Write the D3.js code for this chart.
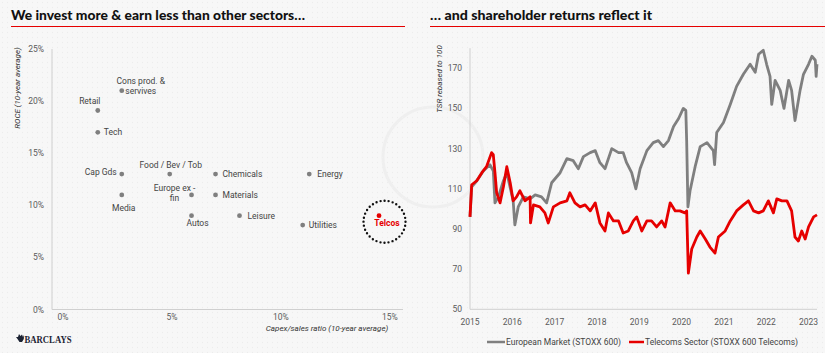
<!DOCTYPE html>
<html>
<head>
<meta charset="utf-8">
<script src="https://cdn.jsdelivr.net/npm/d3@7"></script>
<style>
  body { margin: 0; background: #f7f7f7; }
  svg { display: block; font-family: Roboto, "Open Sans", sans-serif; }
</style>
</head>
<body>
<div id="chart"></div>
<script>
// ---- left panel: capex vs ROCE
const sectors = ['Cons prod. & servives', 'Retail', 'Tech', 'Cap Gds', 'Food / Bev / Tob', 'Media',
  'Europe ex - fin', 'Autos', 'Chemicals', 'Materials', 'Leisure', 'Energy', 'Utilities', 'Telcos']
const capex = [2.7, 1.6, 1.6, 2.7, 4.9, 2.7, 5.9, 5.9, 7.0, 7.0, 8.1, 11.3, 11.0, 14.5]
const roce = [21.0, 19.1, 17.0, 13.0, 13.0, 11.0, 11.0, 9.0, 13.0, 11.0, 9.0, 13.0, 8.1, 9.0]
const capexTicks = [0, 5, 10, 15]
const roceTicks = [0, 5, 10, 15, 20, 25]

// ---- right panel: TSR rebased to 100
const tsrTicks = [50, 70, 90, 110, 130, 150, 170]
const yearTicks = [2015, 2016, 2017, 2018, 2019, 2020, 2021, 2022, 2023]
const seriesNames = ['European Market (STOXX 600)', 'Telecoms Sector (STOXX 600 Telecoms)']
const marketYears = [2015.00, 2015.04, 2015.16, 2015.32, 2015.47, 2015.55, 2015.59, 2015.67, 2015.79, 2015.87,
  2016.02, 2016.06, 2016.14, 2016.26, 2016.42, 2016.54, 2016.69, 2016.81, 2016.93, 2017.13,
  2017.29, 2017.44, 2017.56, 2017.68, 2017.84, 2017.96, 2018.07, 2018.19, 2018.35, 2018.51,
  2018.62, 2018.70, 2018.82, 2018.92, 2019.02, 2019.18, 2019.33, 2019.45, 2019.57, 2019.69,
  2019.81, 2019.93, 2020.04, 2020.10, 2020.12, 2020.15, 2020.20, 2020.32, 2020.44, 2020.60,
  2020.75, 2020.78, 2020.83, 2020.99, 2021.15, 2021.30, 2021.46, 2021.62, 2021.74, 2021.82,
  2021.93, 2022.01, 2022.09, 2022.13, 2022.21, 2022.33, 2022.42, 2022.53, 2022.60, 2022.68,
  2022.80, 2022.88, 2023.00, 2023.08, 2023.16, 2023.18, 2023.20]
const marketTSR = [96, 111, 114, 119, 122, 119, 103, 106, 114, 118,
  104, 92, 101, 106, 105, 107, 106, 103, 113, 118,
  125, 124, 120, 126, 128, 129, 123, 120, 130, 128,
  128, 123, 118, 110, 120, 129, 133, 134, 131, 134,
  141, 145, 150, 149, 134, 101, 109, 121, 131, 133,
  129, 122, 138, 143, 152, 161, 167, 172, 168, 177,
  179, 172, 166, 152, 164, 159, 150, 164, 159, 144,
  159, 167, 172, 176, 174, 166, 172]
const telcoYears = [2015.00, 2015.04, 2015.16, 2015.28, 2015.39, 2015.51, 2015.55, 2015.59, 2015.63, 2015.71,
  2015.79, 2015.87, 2015.95, 2016.02, 2016.10, 2016.18, 2016.30, 2016.42, 2016.43, 2016.50,
  2016.65, 2016.77, 2016.85, 2016.97, 2017.13, 2017.29, 2017.36, 2017.48, 2017.60, 2017.72,
  2017.84, 2017.96, 2018.07, 2018.19, 2018.27, 2018.39, 2018.51, 2018.62, 2018.74, 2018.86,
  2018.94, 2019.06, 2019.18, 2019.29, 2019.41, 2019.53, 2019.61, 2019.73, 2019.85, 2019.96,
  2020.08, 2020.12, 2020.15, 2020.16, 2020.24, 2020.36, 2020.44, 2020.56, 2020.67, 2020.79,
  2020.87, 2021.03, 2021.15, 2021.30, 2021.46, 2021.58, 2021.70, 2021.82, 2021.93, 2022.05,
  2022.17, 2022.25, 2022.37, 2022.49, 2022.60, 2022.68, 2022.76, 2022.84, 2022.92, 2023.00,
  2023.12, 2023.20]
const telcoTSR = [96, 112, 114, 118, 121, 128, 127, 118, 108, 103,
  111, 121, 113, 104, 106, 109, 104, 106, 93, 102,
  101, 98, 93, 101, 103, 104, 108, 103, 101, 102,
  99, 103, 93, 89, 98, 94, 94, 88, 89, 94,
  96, 89, 94, 94, 91, 94, 91, 103, 99, 99,
  98, 99, 76, 68, 80, 86, 89, 85, 81, 78,
  86, 89, 94, 99, 102, 104, 99, 98, 99, 104,
  98, 105, 104, 104, 99, 86, 84, 89, 85, 91,
  96, 97]

const W = 825, H = 353
const grey = '#7f7f7f', red = '#e60000', axisCol = '#cfcfcf', tickCol = '#5a5a5a'

const svg = d3.select('#chart').append('svg')
  .attr('width', W).attr('height', H)

// background with faint dots
const defs = svg.append('defs')
defs.append('pattern')
  .attr('id', 'dots').attr('width', 5).attr('height', 5)
  .attr('patternUnits', 'userSpaceOnUse')
  .append('circle').attr('cx', 2.5).attr('cy', 2.5).attr('r', 0.7)
  .attr('fill', '#ececec')
svg.append('rect').attr('width', W).attr('height', H).attr('fill', '#f7f7f7')
svg.append('rect').attr('width', W).attr('height', H).attr('fill', 'url(#dots)')
svg.append('circle').attr('cx', 433).attr('cy', 157).attr('r', 50)
  .attr('fill', 'none').attr('stroke', '#efefef').attr('stroke-width', 3)

// titles
function title(x, txt, len, x2) {
  svg.append('text').attr('x', x).attr('y', 20)
    .attr('font-family', 'Lato, sans-serif').attr('font-weight', 900)
    .attr('font-size', 14).attr('fill', '#111')
    .attr('textLength', len).attr('lengthAdjust', 'spacingAndGlyphs')
    .text(txt)
  svg.append('line').attr('x1', x).attr('x2', x2).attr('y1', 26.5).attr('y2', 26.5)
    .attr('stroke', red).attr('stroke-width', 1)
}
title(11, 'We invest more & earn less than other sectors…', 294, 405)
title(430, '… and shareholder returns reflect it', 222, 825)

// ===== left scatter
const xL = d3.scaleLinear().domain([-0.5, 15.6]).range([52, 403])
const yL = d3.scaleLinear().domain([0, 25]).range([309.5, 49])

const gL = svg.append('g')
gL.append('line').attr('x1', xL(-0.5)).attr('x2', xL(-0.5)).attr('y1', yL(25)).attr('y2', yL(0))
  .attr('stroke', axisCol)
gL.append('line').attr('x1', xL(-0.5)).attr('x2', xL(15.6)).attr('y1', yL(0)).attr('y2', yL(0))
  .attr('stroke', axisCol)
gL.selectAll('.yt').data(roceTicks).join('text')
  .attr('x', 44).attr('y', d => yL(d) + 3)
  .attr('text-anchor', 'end').attr('font-size', 8.5).attr('fill', tickCol)
  .text(d => d + '%')
gL.selectAll('.xt').data(capexTicks).join('text')
  .attr('x', d => xL(d)).attr('y', 320)
  .attr('text-anchor', 'middle').attr('font-size', 8.5).attr('fill', tickCol)
  .text(d => d + '%')
gL.append('text')
  .attr('transform', `translate(20,88) rotate(-90)`)
  .attr('text-anchor', 'middle').attr('font-size', 8).attr('font-style', 'italic').attr('fill', '#333')
  .text('ROCE (10-year average)')
gL.append('text').attr('x', 327).attr('y', 331)
  .attr('text-anchor', 'middle').attr('font-size', 8).attr('font-style', 'italic').attr('fill', '#333')
  .text('Capex/sales ratio (10-year average)')

// label placement around each dot
const place = {
  'Cons prod. & servives': { a: 'middle', dx: 19, lines: ['Cons prod. &', 'servives'], dy: [-10, 0] },
  'Retail': { a: 'middle', dx: -8, dy: [-9] },
  'Tech': { a: 'start', dx: 6, dy: [0] },
  'Cap Gds': { a: 'end', dx: -5, dy: [-2] },
  'Food / Bev / Tob': { a: 'middle', dx: 1, dy: [-9] },
  'Media': { a: 'middle', dx: 2, dy: [13] },
  'Europe ex - fin': { a: 'middle', dx: -17, lines: ['Europe ex -', 'fin'], dy: [-7, 3] },
  'Autos': { a: 'middle', dx: 6, dy: [7] },
  'Chemicals': { a: 'start', dx: 7, dy: [0] },
  'Materials': { a: 'start', dx: 7, dy: [0] },
  'Leisure': { a: 'start', dx: 8, dy: [0] },
  'Energy': { a: 'start', dx: 8, dy: [0] },
  'Utilities': { a: 'start', dx: 6, dy: [0] },
  'Telcos': { a: 'middle', dx: 8, dy: [7] }
}
const pts = sectors.map((s, i) => ({ name: s, x: capex[i], y: roce[i] }))

const telco = pts.find(d => d.name === 'Telcos')
gL.append('circle')
  .attr('cx', xL(telco.x) + 5.5).attr('cy', yL(telco.y) + 6).attr('r', 21)
  .attr('fill', 'none').attr('stroke', '#111').attr('stroke-width', 2.4)
  .attr('stroke-linecap', 'round').attr('stroke-dasharray', '0 4.1')

gL.selectAll('.dot').data(pts).join('circle')
  .attr('cx', d => xL(d.x)).attr('cy', d => yL(d.y)).attr('r', 2.4)
  .attr('fill', d => d.name === 'Telcos' ? red : grey)

pts.forEach(d => {
  const p = place[d.name]
  const lines = p.lines || [d.name]
  const isT = d.name === 'Telcos'
  lines.forEach((ln, j) => {
    gL.append('text')
      .attr('x', xL(d.x) + p.dx).attr('y', yL(d.y) + p.dy[j] + 3)
      .attr('text-anchor', p.a)
      .attr('font-size', 8.5)
      .attr('font-weight', isT ? 700 : 400)
      .attr('fill', isT ? red : '#444')
      .text(ln)
  })
})

// Barclays mark
const gB = svg.append('g').attr('transform', 'translate(15,334)')
gB.append('path')
  .attr('d', 'M4,0 L5.5,2 L7,0.5 L8,3 L9,1 L8.8,5 L7,8 L4.5,8 L2.5,5 L1,3 L3,3 Z')
  .attr('fill', '#1c2333')
gB.append('text').attr('x', 9.5).attr('y', 8.5)
  .attr('font-family', '"Liberation Serif", serif').attr('font-weight', 700)
  .attr('font-size', 11).attr('fill', '#1c2333')
  .attr('textLength', 47).attr('lengthAdjust', 'spacingAndGlyphs')
  .text('BARCLAYS')

// ===== right line chart
const xR = d3.scaleLinear().domain([2015, 2023.2]).range([470, 817])
const yR = d3.scaleLinear().domain([50, 180]).range([309.3, 48.2])

const gR = svg.append('g')
gR.append('line').attr('x1', xR(2015)).attr('x2', xR(2015)).attr('y1', yR(180)).attr('y2', yR(50))
  .attr('stroke', axisCol)
gR.append('line').attr('x1', xR(2015)).attr('x2', xR(2023.2)).attr('y1', yR(50)).attr('y2', yR(50))
  .attr('stroke', axisCol)
gR.selectAll('.yt').data(tsrTicks).join('text')
  .attr('x', 462).attr('y', d => yR(d) + 3)
  .attr('text-anchor', 'end').attr('font-size', 8.5).attr('fill', tickCol)
  .text(d => d)
gR.selectAll('.xt').data(yearTicks).join('text')
  .attr('x', d => xR(d)).attr('y', 325)
  .attr('text-anchor', 'middle').attr('font-size', 8.5).attr('fill', tickCol)
  .text(d => d)
gR.append('text')
  .attr('transform', `translate(442,79) rotate(-90)`)
  .attr('text-anchor', 'middle').attr('font-size', 8).attr('font-style', 'italic').attr('fill', '#333')
  .text('TSR rebased to 100')

const line = d3.line().x(d => xR(d[0])).y(d => yR(d[1])).curve(d3.curveLinear)
const market = d3.zip(marketYears, marketTSR)
const telcos = d3.zip(telcoYears, telcoTSR)
gR.append('path').datum(market).attr('d', line)
  .attr('fill', 'none').attr('stroke', grey).attr('stroke-width', 2.8).attr('stroke-linejoin', 'round')
gR.append('path').datum(telcos).attr('d', line)
  .attr('fill', 'none').attr('stroke', red).attr('stroke-width', 2.8).attr('stroke-linejoin', 'round')

// legend
const legend = [
  { name: seriesNames[0], col: grey, x: 487, len: 18 },
  { name: seriesNames[1], col: red, x: 629, len: 15 }
]
legend.forEach(l => {
  gR.append('line').attr('x1', l.x).attr('x2', l.x + l.len).attr('y1', 342).attr('y2', 342)
    .attr('stroke', l.col).attr('stroke-width', 2.5)
  gR.append('text').attr('x', l.x + l.len + 1).attr('y', 345)
    .attr('font-size', 8.5).attr('fill', '#444').text(l.name)
})
</script>
</body>
</html>
